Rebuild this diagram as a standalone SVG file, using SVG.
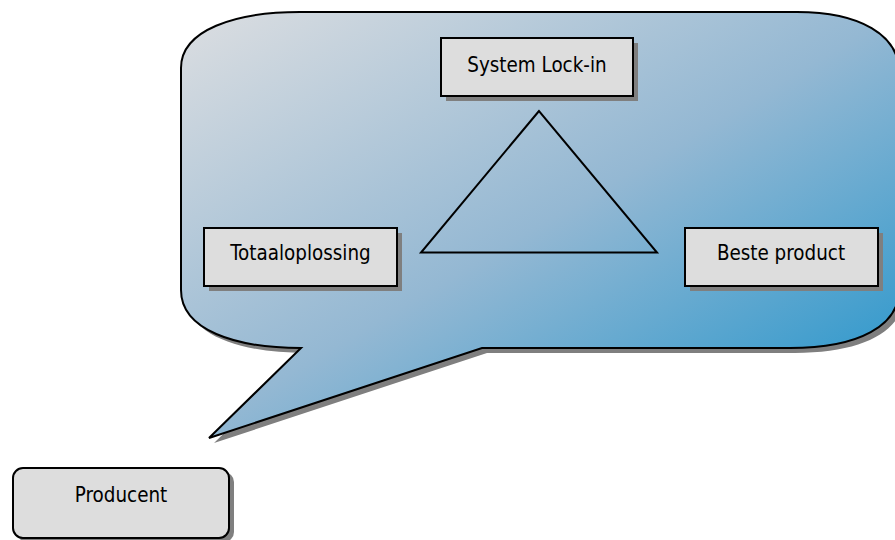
<svg xmlns="http://www.w3.org/2000/svg" width="895" height="540" viewBox="0 0 895 540">
  <style>
    .shadow { fill: #7f7f7f; }
    .box { fill: #dddddd; stroke: #000000; stroke-width: 2; }
    .label { font-family: "DejaVu Sans Condensed", "DejaVu Sans", sans-serif; font-stretch: condensed; font-size: 20.4px; fill: #000000; text-anchor: middle; }
  </style>
  <defs>
    <linearGradient id="bubbleFill" x1="0" y1="0" x2="1" y2="1">
      <stop offset="0" stop-color="#dcdee1"/>
      <stop offset="0.5" stop-color="#94b8d3"/>
      <stop offset="1" stop-color="#1a92cb"/>
    </linearGradient>
    <path id="bubbleShape" d="M 181,68 C 181,30 235,12 300,12 L 797,12 C 860,12 899,35 899,72 L 899,290 C 899,325 860,348 790,348 L 482,348 L 209,438 L 301,348 C 235,348 181,330 181,290 Z"/>
  </defs>

  <!-- speech bubble -->
  <g id="bubble">
    <use href="#bubbleShape" class="shadow" transform="translate(5,5)"/>
    <use href="#bubbleShape" fill="url(#bubbleFill)" stroke="#000000" stroke-width="2"/>
  </g>

  <!-- connectors -->
  <g id="connectors">
    <polygon points="539,111 421,252.5 657,252.5" fill="none" stroke="#000000" stroke-width="2"/>
  </g>

  <g id="system-lock-in">
    <rect class="shadow" x="446" y="43" width="192" height="58"/>
    <rect class="box" x="441" y="38" width="192" height="58"/>
    <text class="label" x="537" y="72">System Lock-in</text>
  </g>

  <g id="totaaloplossing">
    <rect class="shadow" x="209" y="233" width="193" height="58"/>
    <rect class="box" x="204" y="228" width="193" height="58"/>
    <text class="label" x="300.5" y="260">Totaaloplossing</text>
  </g>

  <g id="beste-product">
    <rect class="shadow" x="690" y="233" width="193" height="58"/>
    <rect class="box" x="685" y="228" width="193" height="58"/>
    <text class="label" x="781" y="260">Beste product</text>
  </g>

  <g id="producent">
    <rect class="shadow" x="17" y="472" width="217" height="70" rx="10"/>
    <rect class="box" x="13" y="468" width="216" height="70" rx="10"/>
    <text class="label" x="121" y="502">Producent</text>
  </g>
</svg>
